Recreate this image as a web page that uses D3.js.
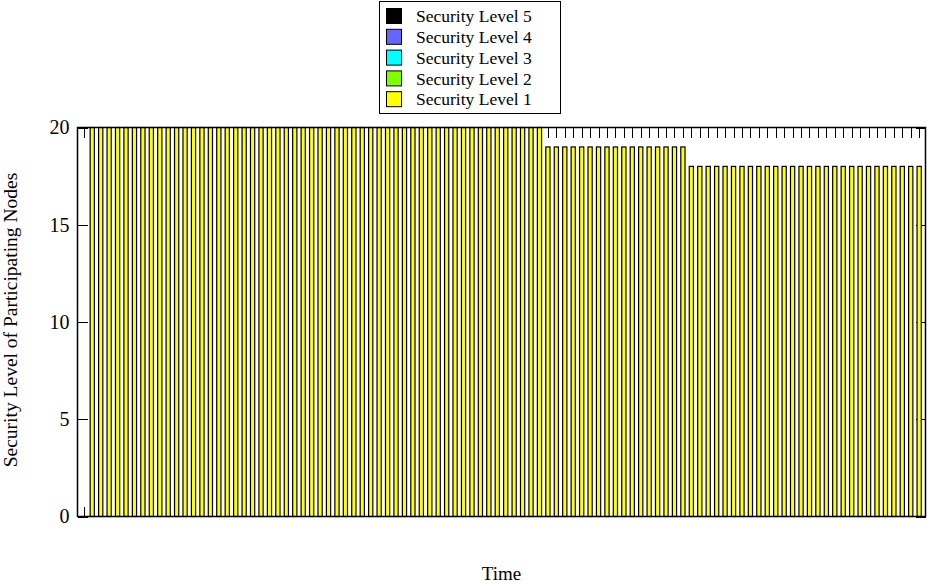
<!DOCTYPE html>
<html>
<head>
<meta charset="utf-8">
<script src="https://cdn.jsdelivr.net/npm/d3@7"></script>
<style>
  body { margin: 0; background: #fff; }
  svg { display: block; font-family: "Liberation Serif", "Times New Roman", serif; }
</style>
</head>
<body>
<svg id="chart" width="927" height="584"></svg>
<script>
// ---- data ----
const timeIndex = d3.range(0, 100); // positions 0..99 (tick positions)
const level1 = [
  0,
  20,20,20,20,20,20,20,20,20,20,
  20,20,20,20,20,20,20,20,20,20,
  20,20,20,20,20,20,20,20,20,20,
  20,20,20,20,20,20,20,20,20,20,
  20,20,20,20,20,20,20,20,20,20,
  20,20,20,20,
  19,19,19,19,19,19,19,19,19,19,
  19,19,19,19,19,19,19,
  18,18,18,18,18,18,18,18,18,18,
  18,18,18,18,18,18,18,18,18,18,
  18,18,18,18,18,18,18,18
];
const level2 = new Array(100).fill(0);
const level3 = new Array(100).fill(0);
const level4 = new Array(100).fill(0);
const level5 = new Array(100).fill(0);
const seriesNames = ["Security Level 1", "Security Level 2", "Security Level 3", "Security Level 4", "Security Level 5"];
const seriesColors = ["#ffff00", "#80ff00", "#00ffff", "#6666ff", "#000000"];
const yTicks = [0, 5, 10, 15, 20];

// ---- layout ----
const svg = d3.select("#chart");
const L = 77.5, R = 925.5, T = 127.5, B = 516.5;

const x = d3.scaleLinear().domain([-0.75, 99.75]).range([L, R]);
const y = d3.scaleLinear().domain([0, 20]).range([B, T]);
const step = x(1) - x(0);
const barW = step * 0.5;

const rows = timeIndex.map((t, i) => ({
  t,
  "Security Level 1": level1[i],
  "Security Level 2": level2[i],
  "Security Level 3": level3[i],
  "Security Level 4": level4[i],
  "Security Level 5": level5[i]
}));
const stack = d3.stack().keys(seriesNames)(rows);

// ticks (drawn under the bars)
const tickLen = 10;
const styleTicks = g => { g.select(".domain").remove(); g.selectAll("line").attr("stroke", "#000").attr("shape-rendering", "crispEdges"); };
svg.append("g").attr("transform", `translate(0,${T})`)
  .call(d3.axisBottom(x).tickValues(timeIndex).tickSize(tickLen).tickFormat("")).call(styleTicks);
svg.append("g").attr("transform", `translate(0,${B})`)
  .call(d3.axisTop(x).tickValues(timeIndex).tickSize(tickLen).tickFormat("")).call(styleTicks);
svg.append("g").attr("transform", `translate(${L},0)`)
  .call(d3.axisRight(y).tickValues(yTicks).tickSize(tickLen).tickFormat("")).call(styleTicks);
svg.append("g").attr("transform", `translate(${R},0)`)
  .call(d3.axisLeft(y).tickValues(yTicks).tickSize(tickLen).tickFormat("")).call(styleTicks);

// y tick labels
svg.append("g").attr("transform", `translate(${L},0)`)
  .call(d3.axisLeft(y).tickValues(yTicks).tickSize(0).tickPadding(8).tickFormat(d3.format("d")))
  .call(g => {
    g.select(".domain").remove();
    g.selectAll("text").attr("font-family", "Liberation Serif, serif").attr("font-size", 20).attr("fill", "#000");
  });

// bars
stack.forEach((s, k) => {
  svg.append("g").selectAll("rect")
    .data(s.filter(d => d[1] - d[0] > 0))
    .join("rect")
    .attr("x", d => x(d.data.t) - barW / 2)
    .attr("width", barW)
    .attr("y", d => y(d[1]))
    .attr("height", d => y(d[0]) - y(d[1]))
    .attr("fill", seriesColors[k])
    .attr("stroke", "#000")
    .attr("stroke-width", 1.2);
});

// border
svg.append("rect").attr("x", L).attr("y", T).attr("width", R - L).attr("height", B - T)
  .attr("fill", "none").attr("stroke", "#000").attr("stroke-width", 1.5);

// axis titles
svg.append("text").attr("x", (L + R) / 2).attr("y", 580)
  .attr("text-anchor", "middle").attr("font-size", 19).text("Time");
svg.append("text").attr("transform", `translate(17,${(T + B) / 2 - 2}) rotate(-90)`)
  .attr("text-anchor", "middle").attr("font-size", 19.5).text("Security Level of Participating Nodes");

// legend
const lg = svg.append("g");
lg.append("rect").attr("x", 379.5).attr("y", 1.5).attr("width", 181).attr("height", 112)
  .attr("fill", "#fff").attr("stroke", "#000").attr("stroke-width", 1);
const legendOrder = [4, 3, 2, 1, 0];
legendOrder.forEach((k, i) => {
  const cy = 16 + i * 20.8;
  lg.append("rect").attr("x", 386.5).attr("y", cy - 7.5).attr("width", 15).attr("height", 15)
    .attr("fill", seriesColors[k]).attr("stroke", "#000").attr("stroke-width", 1);
  lg.append("text").attr("x", 416).attr("y", cy).attr("dy", "0.35em")
    .attr("font-size", 17.5).text(seriesNames[k]);
});
</script>
</body>
</html>
